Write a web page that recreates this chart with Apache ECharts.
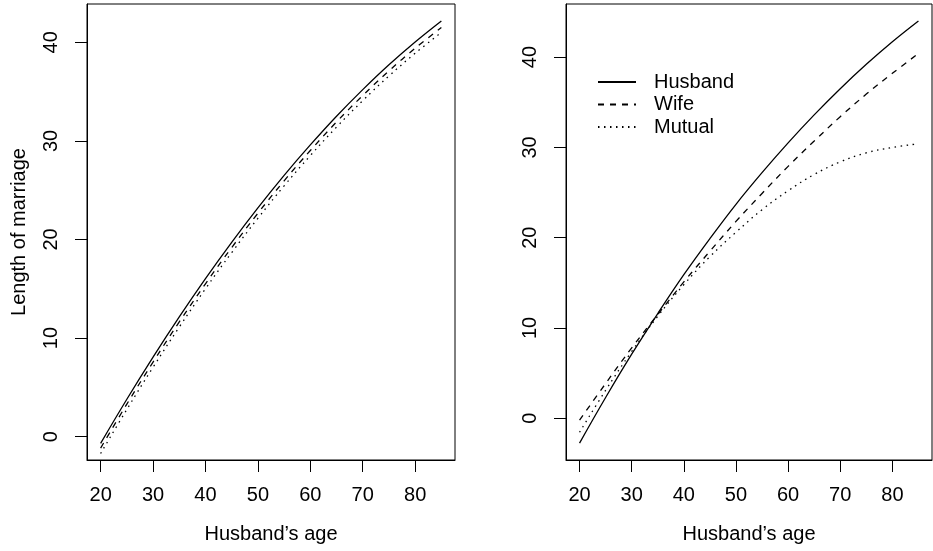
<!DOCTYPE html>
<html>
<head>
<meta charset="utf-8">
<script src="https://cdn.jsdelivr.net/npm/echarts@6/dist/echarts.min.js"></script>
<style>
  html, body { margin: 0; padding: 0; background: #fff; }
  #chart { width: 933px; height: 551px; }
</style>
</head>
<body>
<div id="chart"></div>
<script>
// Husband's age (years) at which the fitted curves are evaluated
const ages = [20, 25, 30, 35, 40, 45, 50, 55, 60, 65, 70, 75, 80, 85];

// Left panel: length of marriage (years)
const leftHusband = [-0.67, 3.80, 8.07, 12.15, 16.03, 19.71, 23.20, 26.50, 29.59, 32.50, 35.20, 37.72, 40.03, 42.16];
const leftWife    = [-1.15, 3.31, 7.57, 11.64, 15.51, 19.18, 22.66, 25.95, 29.02, 31.92, 34.60, 37.10, 39.39, 41.50];
const leftMutual  = [-1.70, 2.77, 7.04, 11.12, 15.00, 18.67, 22.15, 25.44, 28.51, 31.40, 34.08, 36.58, 38.88, 41.00];

// Right panel: length of marriage (years)
const rightHusband = [-2.75, 2.30, 7.10, 11.60, 15.90, 19.90, 23.70, 27.20, 30.50, 33.60, 36.50, 39.20, 41.70, 44.00];
const rightWife    = [-0.20, 3.85, 7.80, 11.50, 15.10, 18.50, 21.80, 24.90, 27.90, 30.70, 33.40, 35.90, 38.20, 40.40];
const rightMutual  = [-1.55, 3.10, 7.40, 11.30, 14.80, 17.90, 20.60, 23.10, 25.20, 27.00, 28.40, 29.40, 30.00, 30.40];

// Tick labels
const xTicks = [20, 30, 40, 50, 60, 70, 80];
const yTicks = [0, 10, 20, 30, 40];

const seriesNames = ['Husband', 'Wife', 'Mutual'];

const FONT = '"Liberation Sans", Arial, Helvetica, sans-serif';
const lineStyles = [
  { type: 'solid' },
  { type: [6, 6] },
  { type: [1.5, 4.5] }
];

function pairs(vals) {
  return ages.map((a, i) => [a, vals[i]]);
}

function xAxisFor(gridIndex) {
  return {
    type: 'value', gridIndex,
    min: 17.4, max: 87.6,
    name: "Husband\u2019s age", nameLocation: 'middle', nameGap: 64,
    nameTextStyle: { fontFamily: FONT, fontSize: 20, color: '#000' },
    axisLine: { show: true, onZero: false, lineStyle: { color: '#000', width: 1 } },
    axisTick: { show: true, length: 12, customValues: xTicks, lineStyle: { color: '#000', width: 1 } },
    axisLabel: { customValues: xTicks, margin: 25, fontFamily: FONT, fontSize: 20, color: '#000' },
    splitLine: { show: false }
  };
}

function yAxisFor(gridIndex, min, max, name) {
  return {
    type: 'value', gridIndex,
    min, max,
    name: name || '', nameLocation: 'middle', nameGap: 58, nameRotate: 90,
    nameTextStyle: { fontFamily: FONT, fontSize: 20, color: '#000' },
    axisLine: { show: true, onZero: false, lineStyle: { color: '#000', width: 1 } },
    axisTick: { show: true, length: 12, customValues: yTicks, lineStyle: { color: '#000', width: 1 } },
    axisLabel: { customValues: yTicks, rotate: 90, margin: 26, fontFamily: FONT, fontSize: 20, color: '#000' },
    splitLine: { show: false }
  };
}

function lineSeries(name, idx, axisIndex, vals) {
  return {
    name, type: 'line',
    xAxisIndex: axisIndex, yAxisIndex: axisIndex,
    data: pairs(vals),
    smooth: 0.4,
    symbol: 'none',
    lineStyle: Object.assign({ color: '#000', width: 1.3 }, lineStyles[idx]),
    itemStyle: { color: '#000' }
  };
}

const chart = echarts.init(document.getElementById('chart'), null, { renderer: 'canvas' });
chart.setOption({
  animation: false,
  backgroundColor: '#fff',
  grid: [
    { left: 87, top: 4, width: 368, height: 456, show: true, borderColor: '#000', borderWidth: 1, containLabel: false },
    { left: 566, top: 4, width: 366, height: 456, show: true, borderColor: '#000', borderWidth: 1, containLabel: false }
  ],
  xAxis: [xAxisFor(0), xAxisFor(1)],
  yAxis: [
    yAxisFor(0, -2.36, 43.88, 'Length of marriage'),
    yAxisFor(1, -4.62, 45.88, '')
  ],
  legend: {
    data: seriesNames,
    orient: 'vertical',
    left: 597, top: 72,
    padding: 0,
    itemWidth: 38, itemHeight: 14, itemGap: 2.5,
    selectedMode: false,
    itemStyle: { opacity: 0 },
    textStyle: { fontFamily: FONT, fontSize: 20, color: '#000', padding: [0, 0, 0, 13] }
  },
  series: [
    lineSeries('Husband', 0, 0, leftHusband),
    lineSeries('Wife', 1, 0, leftWife),
    lineSeries('Mutual', 2, 0, leftMutual),
    lineSeries('Husband', 0, 1, rightHusband),
    lineSeries('Wife', 1, 1, rightWife),
    lineSeries('Mutual', 2, 1, rightMutual)
  ]
});
</script>
</body>
</html>
